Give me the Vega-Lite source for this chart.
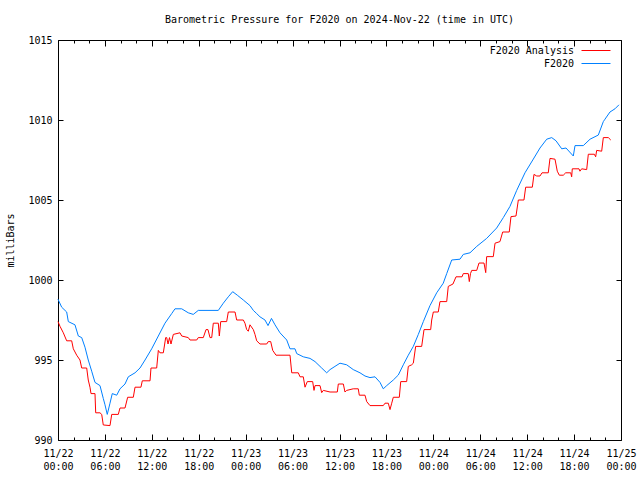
{
  "$schema": "https://vega.github.io/schema/vega-lite/v6.json",
  "width": 563,
  "height": 400,
  "autosize": {"type": "none"},
  "padding": {"left": 58, "top": 40, "right": 19, "bottom": 40},
  "background": "white",
  "title": {"text": "Barometric Pressure for F2020 on 2024-Nov-22 (time in UTC)", "font": "DejaVu Sans Mono", "fontSize": 10, "fontWeight": "normal", "color": "black", "anchor": "middle", "offset": 10},
  "config": {
    "view": {"stroke": "black", "strokeWidth": 1},
    "font": "DejaVu Sans Mono",
    "axis": {"domain": false, "grid": false, "tickColor": "black", "tickWidth": 1, "labelColor": "black", "labelFont": "DejaVu Sans Mono", "labelFontSize": 10, "titleFont": "DejaVu Sans Mono", "titleFontSize": 10, "titleFontWeight": "normal", "titleColor": "black"},
    "legend": {"labelFont": "DejaVu Sans Mono", "labelFontSize": 10, "labelColor": "black"}
  },
  "data": {"values": [
    {"series": "F2020", "hour": 0, "mb": 998.8},
    {"series": "F2020", "hour": 0.47, "mb": 998.3},
    {"series": "F2020", "hour": 1.11, "mb": 998.0},
    {"series": "F2020", "hour": 1.32, "mb": 997.4},
    {"series": "F2020", "hour": 2.17, "mb": 997.2},
    {"series": "F2020", "hour": 2.6, "mb": 996.5},
    {"series": "F2020", "hour": 3.03, "mb": 996.4},
    {"series": "F2020", "hour": 3.45, "mb": 995.8},
    {"series": "F2020", "hour": 3.87, "mb": 995.0},
    {"series": "F2020", "hour": 4.31, "mb": 994.3},
    {"series": "F2020", "hour": 4.73, "mb": 993.6},
    {"series": "F2020", "hour": 5.37, "mb": 993.4},
    {"series": "F2020", "hour": 5.79, "mb": 992.6},
    {"series": "F2020", "hour": 6.01, "mb": 992.2},
    {"series": "F2020", "hour": 6.3, "mb": 991.6},
    {"series": "F2020", "hour": 6.65, "mb": 992.3},
    {"series": "F2020", "hour": 6.94, "mb": 992.9},
    {"series": "F2020", "hour": 7.51, "mb": 992.8},
    {"series": "F2020", "hour": 7.93, "mb": 993.2},
    {"series": "F2020", "hour": 8.57, "mb": 993.5},
    {"series": "F2020", "hour": 8.99, "mb": 993.95},
    {"series": "F2020", "hour": 9.85, "mb": 994.2},
    {"series": "F2020", "hour": 10.49, "mb": 994.5},
    {"series": "F2020", "hour": 11.13, "mb": 995.0},
    {"series": "F2020", "hour": 11.98, "mb": 995.7},
    {"series": "F2020", "hour": 12.83, "mb": 996.5},
    {"series": "F2020", "hour": 13.68, "mb": 997.3},
    {"series": "F2020", "hour": 14.54, "mb": 997.9},
    {"series": "F2020", "hour": 14.96, "mb": 998.2},
    {"series": "F2020", "hour": 15.82, "mb": 998.2},
    {"series": "F2020", "hour": 16.66, "mb": 997.95},
    {"series": "F2020", "hour": 17.3, "mb": 997.85},
    {"series": "F2020", "hour": 17.94, "mb": 998.1},
    {"series": "F2020", "hour": 20.5, "mb": 998.1},
    {"series": "F2020", "hour": 21.14, "mb": 998.55},
    {"series": "F2020", "hour": 21.78, "mb": 998.95},
    {"series": "F2020", "hour": 22.34, "mb": 999.27},
    {"series": "F2020", "hour": 22.93, "mb": 999.05},
    {"series": "F2020", "hour": 23.7, "mb": 998.75},
    {"series": "F2020", "hour": 24.55, "mb": 998.4},
    {"series": "F2020", "hour": 24.98, "mb": 998.1},
    {"series": "F2020", "hour": 25.41, "mb": 997.9},
    {"series": "F2020", "hour": 25.83, "mb": 997.7},
    {"series": "F2020", "hour": 26.47, "mb": 997.5},
    {"series": "F2020", "hour": 26.86, "mb": 997.15},
    {"series": "F2020", "hour": 27.3, "mb": 997.6},
    {"series": "F2020", "hour": 27.75, "mb": 997.2},
    {"series": "F2020", "hour": 28.39, "mb": 996.7},
    {"series": "F2020", "hour": 29.25, "mb": 996.25},
    {"series": "F2020", "hour": 29.67, "mb": 995.7},
    {"series": "F2020", "hour": 30.31, "mb": 995.7},
    {"series": "F2020", "hour": 30.53, "mb": 995.4},
    {"series": "F2020", "hour": 31.37, "mb": 995.2},
    {"series": "F2020", "hour": 32.23, "mb": 995.1},
    {"series": "F2020", "hour": 32.87, "mb": 994.9},
    {"series": "F2020", "hour": 33.72, "mb": 994.5},
    {"series": "F2020", "hour": 34.36, "mb": 994.2},
    {"series": "F2020", "hour": 34.79, "mb": 994.4},
    {"series": "F2020", "hour": 35.42, "mb": 994.6},
    {"series": "F2020", "hour": 36.06, "mb": 994.8},
    {"series": "F2020", "hour": 36.92, "mb": 994.7},
    {"series": "F2020", "hour": 37.76, "mb": 994.4},
    {"series": "F2020", "hour": 38.62, "mb": 994.2},
    {"series": "F2020", "hour": 39.26, "mb": 994.0},
    {"series": "F2020", "hour": 39.9, "mb": 993.9},
    {"series": "F2020", "hour": 40.54, "mb": 993.95},
    {"series": "F2020", "hour": 41.18, "mb": 993.6},
    {"series": "F2020", "hour": 41.6, "mb": 993.2},
    {"series": "F2020", "hour": 42.04, "mb": 993.4},
    {"series": "F2020", "hour": 42.88, "mb": 993.75},
    {"series": "F2020", "hour": 43.52, "mb": 994.06},
    {"series": "F2020", "hour": 44.16, "mb": 994.7},
    {"series": "F2020", "hour": 44.8, "mb": 995.3},
    {"series": "F2020", "hour": 45.44, "mb": 995.85},
    {"series": "F2020", "hour": 46.08, "mb": 996.6},
    {"series": "F2020", "hour": 46.72, "mb": 997.4},
    {"series": "F2020", "hour": 47.57, "mb": 998.4},
    {"series": "F2020", "hour": 48.43, "mb": 999.2},
    {"series": "F2020", "hour": 49.27, "mb": 999.8},
    {"series": "F2020", "hour": 49.71, "mb": 1000.4},
    {"series": "F2020", "hour": 50.35, "mb": 1001.25},
    {"series": "F2020", "hour": 51.41, "mb": 1001.3},
    {"series": "F2020", "hour": 51.83, "mb": 1001.6},
    {"series": "F2020", "hour": 52.69, "mb": 1001.7},
    {"series": "F2020", "hour": 53.55, "mb": 1002.1},
    {"series": "F2020", "hour": 54.82, "mb": 1002.6},
    {"series": "F2020", "hour": 56.1, "mb": 1003.25},
    {"series": "F2020", "hour": 56.95, "mb": 1003.9},
    {"series": "F2020", "hour": 57.8, "mb": 1004.6},
    {"series": "F2020", "hour": 58.66, "mb": 1005.6},
    {"series": "F2020", "hour": 59.72, "mb": 1006.7},
    {"series": "F2020", "hour": 60.79, "mb": 1007.56},
    {"series": "F2020", "hour": 61.64, "mb": 1008.25},
    {"series": "F2020", "hour": 62.5, "mb": 1008.8},
    {"series": "F2020", "hour": 63.14, "mb": 1008.9},
    {"series": "F2020", "hour": 63.69, "mb": 1008.7},
    {"series": "F2020", "hour": 64.42, "mb": 1008.2},
    {"series": "F2020", "hour": 64.97, "mb": 1008.25},
    {"series": "F2020", "hour": 65.9, "mb": 1007.75},
    {"series": "F2020", "hour": 66.12, "mb": 1008.4},
    {"series": "F2020", "hour": 67.18, "mb": 1008.4},
    {"series": "F2020", "hour": 68.04, "mb": 1008.8},
    {"series": "F2020", "hour": 69.1, "mb": 1009.06},
    {"series": "F2020", "hour": 69.74, "mb": 1009.9},
    {"series": "F2020", "hour": 69.95, "mb": 1010.05},
    {"series": "F2020", "hour": 70.59, "mb": 1010.5},
    {"series": "F2020", "hour": 71.23, "mb": 1010.7},
    {"series": "F2020", "hour": 71.74, "mb": 1010.95},
    {"series": "F2020 Analysis", "hour": 0, "mb": 997.4},
    {"series": "F2020 Analysis", "hour": 0.26, "mb": 997.1},
    {"series": "F2020 Analysis", "hour": 0.68, "mb": 996.7},
    {"series": "F2020 Analysis", "hour": 1.11, "mb": 996.2},
    {"series": "F2020 Analysis", "hour": 1.75, "mb": 996.2},
    {"series": "F2020 Analysis", "hour": 1.96, "mb": 995.7},
    {"series": "F2020 Analysis", "hour": 2.39, "mb": 995.3},
    {"series": "F2020 Analysis", "hour": 2.81, "mb": 995.0},
    {"series": "F2020 Analysis", "hour": 3.03, "mb": 994.5},
    {"series": "F2020 Analysis", "hour": 3.67, "mb": 994.5},
    {"series": "F2020 Analysis", "hour": 3.87, "mb": 993.75},
    {"series": "F2020 Analysis", "hour": 4.09, "mb": 993.3},
    {"series": "F2020 Analysis", "hour": 4.22, "mb": 992.9},
    {"series": "F2020 Analysis", "hour": 4.73, "mb": 992.9},
    {"series": "F2020 Analysis", "hour": 4.82, "mb": 991.7},
    {"series": "F2020 Analysis", "hour": 5.37, "mb": 991.7},
    {"series": "F2020 Analysis", "hour": 5.59, "mb": 991.6},
    {"series": "F2020 Analysis", "hour": 5.79, "mb": 990.94},
    {"series": "F2020 Analysis", "hour": 6.65, "mb": 990.9},
    {"series": "F2020 Analysis", "hour": 6.87, "mb": 991.6},
    {"series": "F2020 Analysis", "hour": 7.71, "mb": 991.6},
    {"series": "F2020 Analysis", "hour": 7.93, "mb": 992.0},
    {"series": "F2020 Analysis", "hour": 8.57, "mb": 992.0},
    {"series": "F2020 Analysis", "hour": 8.91, "mb": 992.67},
    {"series": "F2020 Analysis", "hour": 9.63, "mb": 992.67},
    {"series": "F2020 Analysis", "hour": 9.85, "mb": 993.3},
    {"series": "F2020 Analysis", "hour": 10.61, "mb": 993.3},
    {"series": "F2020 Analysis", "hour": 10.78, "mb": 993.7},
    {"series": "F2020 Analysis", "hour": 11.77, "mb": 993.7},
    {"series": "F2020 Analysis", "hour": 11.89, "mb": 994.5},
    {"series": "F2020 Analysis", "hour": 12.62, "mb": 994.5},
    {"series": "F2020 Analysis", "hour": 12.83, "mb": 995.6},
    {"series": "F2020 Analysis", "hour": 13.04, "mb": 995.45},
    {"series": "F2020 Analysis", "hour": 13.47, "mb": 995.45},
    {"series": "F2020 Analysis", "hour": 13.77, "mb": 996.4},
    {"series": "F2020 Analysis", "hour": 13.9, "mb": 996.4},
    {"series": "F2020 Analysis", "hour": 14.07, "mb": 996.0},
    {"series": "F2020 Analysis", "hour": 14.26, "mb": 996.4},
    {"series": "F2020 Analysis", "hour": 14.45, "mb": 996.0},
    {"series": "F2020 Analysis", "hour": 14.75, "mb": 996.6},
    {"series": "F2020 Analysis", "hour": 15.6, "mb": 996.7},
    {"series": "F2020 Analysis", "hour": 15.82, "mb": 996.5},
    {"series": "F2020 Analysis", "hour": 16.66, "mb": 996.4},
    {"series": "F2020 Analysis", "hour": 16.88, "mb": 996.25},
    {"series": "F2020 Analysis", "hour": 17.74, "mb": 996.25},
    {"series": "F2020 Analysis", "hour": 17.94, "mb": 996.4},
    {"series": "F2020 Analysis", "hour": 18.58, "mb": 996.4},
    {"series": "F2020 Analysis", "hour": 18.93, "mb": 996.9},
    {"series": "F2020 Analysis", "hour": 19.18, "mb": 996.9},
    {"series": "F2020 Analysis", "hour": 19.44, "mb": 996.4},
    {"series": "F2020 Analysis", "hour": 19.66, "mb": 996.4},
    {"series": "F2020 Analysis", "hour": 19.86, "mb": 997.3},
    {"series": "F2020 Analysis", "hour": 20.5, "mb": 997.3},
    {"series": "F2020 Analysis", "hour": 20.63, "mb": 996.5},
    {"series": "F2020 Analysis", "hour": 20.81, "mb": 997.4},
    {"series": "F2020 Analysis", "hour": 21.57, "mb": 997.4},
    {"series": "F2020 Analysis", "hour": 21.78, "mb": 998.0},
    {"series": "F2020 Analysis", "hour": 22.64, "mb": 998.0},
    {"series": "F2020 Analysis", "hour": 22.85, "mb": 997.5},
    {"series": "F2020 Analysis", "hour": 23.7, "mb": 997.5},
    {"series": "F2020 Analysis", "hour": 23.91, "mb": 997.3},
    {"series": "F2020 Analysis", "hour": 24.13, "mb": 996.9},
    {"series": "F2020 Analysis", "hour": 24.34, "mb": 996.8},
    {"series": "F2020 Analysis", "hour": 24.55, "mb": 997.2},
    {"series": "F2020 Analysis", "hour": 24.98, "mb": 996.9},
    {"series": "F2020 Analysis", "hour": 25.19, "mb": 996.6},
    {"series": "F2020 Analysis", "hour": 25.41, "mb": 996.2},
    {"series": "F2020 Analysis", "hour": 25.83, "mb": 996.0},
    {"series": "F2020 Analysis", "hour": 26.69, "mb": 996.0},
    {"series": "F2020 Analysis", "hour": 26.89, "mb": 996.15},
    {"series": "F2020 Analysis", "hour": 27.2, "mb": 996.15},
    {"series": "F2020 Analysis", "hour": 27.46, "mb": 995.6},
    {"series": "F2020 Analysis", "hour": 27.88, "mb": 995.3},
    {"series": "F2020 Analysis", "hour": 29.67, "mb": 995.3},
    {"series": "F2020 Analysis", "hour": 29.89, "mb": 994.2},
    {"series": "F2020 Analysis", "hour": 30.73, "mb": 994.2},
    {"series": "F2020 Analysis", "hour": 30.95, "mb": 993.95},
    {"series": "F2020 Analysis", "hour": 31.37, "mb": 993.95},
    {"series": "F2020 Analysis", "hour": 31.59, "mb": 993.3},
    {"series": "F2020 Analysis", "hour": 31.88, "mb": 993.65},
    {"series": "F2020 Analysis", "hour": 32.57, "mb": 993.65},
    {"series": "F2020 Analysis", "hour": 32.74, "mb": 993.1},
    {"series": "F2020 Analysis", "hour": 32.87, "mb": 993.4},
    {"series": "F2020 Analysis", "hour": 33.51, "mb": 993.4},
    {"series": "F2020 Analysis", "hour": 33.72, "mb": 992.96},
    {"series": "F2020 Analysis", "hour": 33.93, "mb": 993.1},
    {"series": "F2020 Analysis", "hour": 34.79, "mb": 993.0},
    {"series": "F2020 Analysis", "hour": 35.72, "mb": 993.0},
    {"series": "F2020 Analysis", "hour": 35.85, "mb": 993.5},
    {"series": "F2020 Analysis", "hour": 36.49, "mb": 993.5},
    {"series": "F2020 Analysis", "hour": 36.7, "mb": 993.0},
    {"series": "F2020 Analysis", "hour": 36.92, "mb": 993.1},
    {"series": "F2020 Analysis", "hour": 37.76, "mb": 993.2},
    {"series": "F2020 Analysis", "hour": 38.4, "mb": 993.2},
    {"series": "F2020 Analysis", "hour": 38.53, "mb": 992.8},
    {"series": "F2020 Analysis", "hour": 39.26, "mb": 992.8},
    {"series": "F2020 Analysis", "hour": 39.48, "mb": 992.4},
    {"series": "F2020 Analysis", "hour": 39.9, "mb": 992.15},
    {"series": "F2020 Analysis", "hour": 41.6, "mb": 992.15},
    {"series": "F2020 Analysis", "hour": 41.82, "mb": 992.3},
    {"series": "F2020 Analysis", "hour": 42.24, "mb": 992.3},
    {"series": "F2020 Analysis", "hour": 42.46, "mb": 991.9},
    {"series": "F2020 Analysis", "hour": 42.68, "mb": 992.3},
    {"series": "F2020 Analysis", "hour": 42.88, "mb": 992.67},
    {"series": "F2020 Analysis", "hour": 43.65, "mb": 992.67},
    {"series": "F2020 Analysis", "hour": 43.83, "mb": 993.65},
    {"series": "F2020 Analysis", "hour": 44.59, "mb": 993.65},
    {"series": "F2020 Analysis", "hour": 44.8, "mb": 994.6},
    {"series": "F2020 Analysis", "hour": 45.23, "mb": 994.7},
    {"series": "F2020 Analysis", "hour": 45.44, "mb": 994.8},
    {"series": "F2020 Analysis", "hour": 45.74, "mb": 995.85},
    {"series": "F2020 Analysis", "hour": 46.51, "mb": 995.85},
    {"series": "F2020 Analysis", "hour": 46.81, "mb": 996.9},
    {"series": "F2020 Analysis", "hour": 47.66, "mb": 996.9},
    {"series": "F2020 Analysis", "hour": 47.79, "mb": 997.5},
    {"series": "F2020 Analysis", "hour": 48.0, "mb": 998.0},
    {"series": "F2020 Analysis", "hour": 48.63, "mb": 998.0},
    {"series": "F2020 Analysis", "hour": 48.85, "mb": 998.65},
    {"series": "F2020 Analysis", "hour": 49.71, "mb": 998.65},
    {"series": "F2020 Analysis", "hour": 49.91, "mb": 999.6},
    {"series": "F2020 Analysis", "hour": 50.51, "mb": 999.75},
    {"series": "F2020 Analysis", "hour": 50.9, "mb": 1000.2},
    {"series": "F2020 Analysis", "hour": 51.67, "mb": 1000.2},
    {"series": "F2020 Analysis", "hour": 51.83, "mb": 1000.4},
    {"series": "F2020 Analysis", "hour": 52.47, "mb": 1000.4},
    {"series": "F2020 Analysis", "hour": 52.6, "mb": 999.9},
    {"series": "F2020 Analysis", "hour": 52.75, "mb": 1000.4},
    {"series": "F2020 Analysis", "hour": 52.91, "mb": 1000.6},
    {"series": "F2020 Analysis", "hour": 53.55, "mb": 1000.6},
    {"series": "F2020 Analysis", "hour": 53.84, "mb": 1001.06},
    {"series": "F2020 Analysis", "hour": 54.48, "mb": 1001.06},
    {"series": "F2020 Analysis", "hour": 54.7, "mb": 1000.46},
    {"series": "F2020 Analysis", "hour": 54.82, "mb": 1001.46},
    {"series": "F2020 Analysis", "hour": 55.67, "mb": 1001.46},
    {"series": "F2020 Analysis", "hour": 55.89, "mb": 1002.3},
    {"series": "F2020 Analysis", "hour": 56.52, "mb": 1002.4},
    {"series": "F2020 Analysis", "hour": 56.87, "mb": 1003.0},
    {"series": "F2020 Analysis", "hour": 57.71, "mb": 1003.0},
    {"series": "F2020 Analysis", "hour": 57.93, "mb": 1003.96},
    {"series": "F2020 Analysis", "hour": 58.57, "mb": 1004.0},
    {"series": "F2020 Analysis", "hour": 58.87, "mb": 1005.0},
    {"series": "F2020 Analysis", "hour": 59.59, "mb": 1005.0},
    {"series": "F2020 Analysis", "hour": 59.81, "mb": 1005.8},
    {"series": "F2020 Analysis", "hour": 60.66, "mb": 1005.8},
    {"series": "F2020 Analysis", "hour": 60.87, "mb": 1006.6},
    {"series": "F2020 Analysis", "hour": 61.22, "mb": 1006.5},
    {"series": "F2020 Analysis", "hour": 61.64, "mb": 1006.5},
    {"series": "F2020 Analysis", "hour": 61.9, "mb": 1006.7},
    {"series": "F2020 Analysis", "hour": 62.7, "mb": 1006.7},
    {"series": "F2020 Analysis", "hour": 62.92, "mb": 1007.6},
    {"series": "F2020 Analysis", "hour": 63.56, "mb": 1007.55},
    {"series": "F2020 Analysis", "hour": 63.85, "mb": 1006.8},
    {"series": "F2020 Analysis", "hour": 64.11, "mb": 1006.55},
    {"series": "F2020 Analysis", "hour": 64.62, "mb": 1006.55},
    {"series": "F2020 Analysis", "hour": 64.93, "mb": 1006.7},
    {"series": "F2020 Analysis", "hour": 65.57, "mb": 1006.7},
    {"series": "F2020 Analysis", "hour": 65.69, "mb": 1006.45},
    {"series": "F2020 Analysis", "hour": 65.77, "mb": 1006.95},
    {"series": "F2020 Analysis", "hour": 66.63, "mb": 1006.95},
    {"series": "F2020 Analysis", "hour": 66.75, "mb": 1006.8},
    {"series": "F2020 Analysis", "hour": 66.97, "mb": 1006.95},
    {"series": "F2020 Analysis", "hour": 67.61, "mb": 1006.9},
    {"series": "F2020 Analysis", "hour": 67.82, "mb": 1007.86},
    {"series": "F2020 Analysis", "hour": 68.59, "mb": 1007.86},
    {"series": "F2020 Analysis", "hour": 68.76, "mb": 1007.7},
    {"series": "F2020 Analysis", "hour": 68.89, "mb": 1008.1},
    {"series": "F2020 Analysis", "hour": 69.53, "mb": 1008.05},
    {"series": "F2020 Analysis", "hour": 69.74, "mb": 1008.9},
    {"series": "F2020 Analysis", "hour": 70.38, "mb": 1008.9},
    {"series": "F2020 Analysis", "hour": 70.69, "mb": 1008.75}
  ]},
  "layer": [
    {
      "mark": {"type": "line", "strokeWidth": 1, "interpolate": "linear"},
      "encoding": {
        "x": {"field": "hour", "type": "quantitative", "scale": {"domain": [0, 72], "nice": false, "zero": false},
          "axis": {"orient": "bottom", "title": null, "values": [0,2,4,6,8,10,12,14,16,18,20,22,24,26,28,30,32,34,36,38,40,42,44,46,48,50,52,54,56,58,60,62,64,66,68,70,72],
            "tickSize": {"condition": {"test": "datum.value % 6 === 0", "value": -6}, "value": -3},
            "labelExpr": "datum.value % 6 === 0 ? ['11/' + (22 + floor(datum.value / 24)), (datum.value % 24 < 10 ? '0' : '') + (datum.value % 24) + ':00'] : ''",
            "labelOverlap": false, "labelBound": false, "labelFlush": false, "labelPadding": 14, "labelLineHeight": 13}},
        "y": {"field": "mb", "type": "quantitative", "scale": {"domain": [990, 1015], "nice": false, "zero": false},
          "axis": {"orient": "left", "title": "milliBars", "format": "d", "values": [990, 995, 1000, 1005, 1010, 1015], "tickSize": -5, "labelPadding": 11, "titlePadding": 12, "labelOverlap": false, "labelBound": false, "labelFlush": false}},
        "color": {"field": "series", "type": "nominal",
          "scale": {"domain": ["F2020 Analysis", "F2020"], "range": ["#ff0000", "#0080ff"]},
          "legend": {"title": null, "orient": "none", "legendX": 530, "legendY": 2.5, "symbolType": "M-2,0H2", "symbolSize": 210, "symbolStrokeWidth": 1, "labelAlign": "right", "labelOffset": -30, "rowPadding": -4.5, "padding": 0}}
      }
    },
    {
      "mark": {"type": "line", "opacity": 0},
      "encoding": {
        "x": {"field": "hour", "type": "quantitative",
          "axis": {"orient": "top", "title": null, "labels": false, "values": [0,2,4,6,8,10,12,14,16,18,20,22,24,26,28,30,32,34,36,38,40,42,44,46,48,50,52,54,56,58,60,62,64,66,68,70,72],
            "tickSize": {"condition": {"test": "datum.value % 6 === 0", "value": -6}, "value": -3}}},
        "y": {"field": "mb", "type": "quantitative",
          "axis": {"orient": "right", "title": null, "labels": false, "values": [990, 995, 1000, 1005, 1010, 1015], "tickSize": -5}},
        "detail": {"field": "series", "type": "nominal"}
      }
    }
  ],
  "resolve": {"axis": {"x": "independent", "y": "independent"}}
}
